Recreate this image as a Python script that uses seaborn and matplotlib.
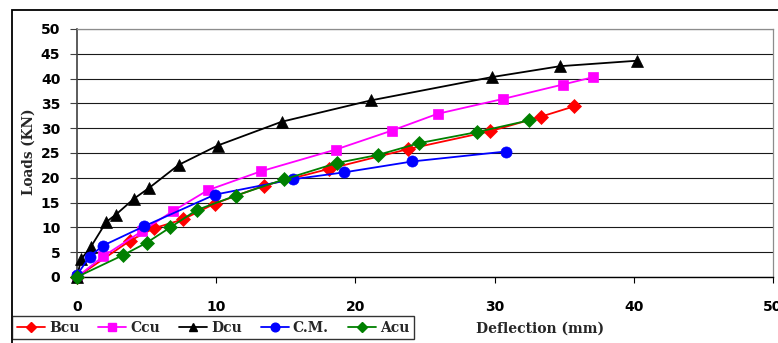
import matplotlib
matplotlib.use("Agg")
import matplotlib.pyplot as plt
from matplotlib.lines import Line2D
from matplotlib.patches import Rectangle
import pandas as pd
import seaborn as sns

# Load-deflection readings for each beam
bcu_x = [0, 3.8, 5.5, 7.6, 9.9, 13.4, 18.1, 23.8, 29.7, 33.3, 35.7]
bcu_y = [0, 7.3, 9.8, 11.6, 14.8, 18.4, 21.8, 25.8, 29.4, 32.3, 34.4]

ccu_x = [0, 1.9, 4.7, 6.9, 9.4, 13.2, 18.6, 22.6, 25.9, 30.6, 34.9, 37.1]
ccu_y = [0, 4.2, 9.3, 13.3, 17.5, 21.3, 25.7, 29.5, 32.9, 35.9, 38.8, 40.3]

dcu_x = [0, 0.3, 1.0, 2.1, 2.8, 4.1, 5.2, 7.3, 10.1, 14.7, 21.1, 29.8, 34.7, 40.2]
dcu_y = [0, 3.6, 6.1, 11.1, 12.6, 15.8, 18.0, 22.6, 26.5, 31.3, 35.6, 40.3, 42.5, 43.6]

cm_x = [0, 0.9, 1.85, 4.8, 9.9, 15.5, 19.2, 24.1, 30.8]
cm_y = [0.4, 4.1, 6.3, 10.2, 16.6, 19.7, 21.1, 23.3, 25.3]

acu_x = [0, 3.3, 5.0, 6.7, 8.6, 11.4, 14.9, 18.7, 21.6, 24.6, 28.7, 32.5]
acu_y = [0, 4.4, 6.9, 10.0, 13.5, 16.4, 19.7, 23.0, 24.6, 27.0, 29.2, 31.6]

names = ["Bcu", "Ccu", "Dcu", "C.M.", "Acu"]
x_ticks = [0, 10, 20, 30, 40, 50]
y_ticks = [0, 5, 10, 15, 20, 25, 30, 35, 40, 45, 50]

sns.set_theme(style="white")
plt.rcParams["font.family"] = ["DejaVu Sans"]

W, H = 778, 343
fig = plt.figure(figsize=(W / 100, H / 100), dpi=100)
ax = fig.add_axes([77 / W, 1 - 277 / H, (773 - 77) / W, (277 - 29) / H])

styles = [
    (bcu_x, bcu_y, "#ff0000", "D", 7.0),
    (ccu_x, ccu_y, "#ff00ff", "s", 7.0),
    (dcu_x, dcu_y, "#000000", "^", 8.0),
    (cm_x, cm_y, "#0000ff", "o", 8.0),
    (acu_x, acu_y, "#008000", "D", 7.0),
]

handles = []
for name, (xs, ys, color, marker, ms) in zip(names, styles):
    df = pd.DataFrame({"Deflection": xs, "Load": ys})
    sns.lineplot(data=df, x="Deflection", y="Load", ax=ax, color=color,
                 marker=marker, markersize=ms, markeredgecolor=color,
                 markeredgewidth=0.5, linewidth=1.3, sort=False,
                 estimator=None, legend=False, clip_on=False, zorder=3)
    handles.append(Line2D([], [], color=color, marker=marker,
                          markersize=ms * 0.78, markeredgecolor=color,
                          linewidth=1.3, label=name))

ax.set_xlim(0, 50)
ax.set_ylim(0, 50)
ax.set_xticks(x_ticks)
ax.set_yticks(y_ticks)
ax.set_xlabel("")
ax.set_ylabel("")
ax.yaxis.grid(True, color="#1a1a1a", linewidth=0.8)
ax.xaxis.grid(False)
ax.set_axisbelow(True)

for side in ["top", "right"]:
    ax.spines[side].set_color("#8c8c8c")
    ax.spines[side].set_linewidth(0.9)
ax.spines["left"].set_color("#404040")
ax.spines["left"].set_linewidth(1.2)
ax.spines["bottom"].set_color("#000000")
ax.spines["bottom"].set_linewidth(1.0)

ax.tick_params(axis="x", direction="out", length=4.5, width=0.8, color="black",
               pad=12, bottom=True)
ax.tick_params(axis="y", direction="out", length=5, width=0.8, color="#404040",
               pad=7, left=True)
for lab in ax.get_xticklabels() + ax.get_yticklabels():
    lab.set_fontweight("bold")
    lab.set_fontsize(10)
    lab.set_color("black")

serif = ["DejaVu Serif"]
fig.text(29 / W, 1 - 152 / H, "Loads (KN)", rotation=90, ha="center",
         va="center", family=serif, fontweight="bold", fontsize=9.8)
fig.text(540 / W, 1 - 329 / H, "Deflection (mm)", ha="center", va="center",
         family=serif, fontweight="bold", fontsize=10)

# chart border
fig.add_artist(Rectangle((12 / W, -0.05), 1.0, 1 - 10 / H + 0.05,
                         transform=fig.transFigure, fill=False,
                         edgecolor="black", linewidth=1.3))

leg = fig.legend(handles=handles, ncol=5, loc="center",
                 bbox_to_anchor=(12 / W, 1 - 341 / H, (414 - 12) / W, 27 / H),
                 mode="expand", frameon=True, fancybox=False,
                 edgecolor="black", handlelength=2.0, handletextpad=0.3,
                 columnspacing=0.6, borderpad=0.35, borderaxespad=0,
                 prop={"family": serif, "weight": "bold", "size": 10})
leg.get_frame().set_linewidth(1.0)

fig.savefig("out.png", dpi=100)
